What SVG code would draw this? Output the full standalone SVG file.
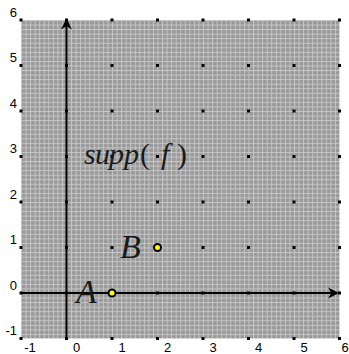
<svg xmlns="http://www.w3.org/2000/svg" width="349" height="354" viewBox="0 0 349 354">
<style>
.tick{font-family:"Liberation Sans",Arial,sans-serif;font-size:13px;fill:#000}
.xl{text-anchor:middle}
.yl{text-anchor:end}
.math{font-family:"Liberation Serif","Times New Roman",serif;font-style:italic;fill:#1a1a1a}
.up{font-style:normal}
.axis{stroke:#000;stroke-width:2;fill:none}
.dot{fill:#000}
.pt{fill:#ffff00;stroke:#000;stroke-width:2}
</style>
<defs>
<pattern id="fine" x="21" y="20" width="4.55" height="4.55" patternUnits="userSpaceOnUse">
<rect width="4.55" height="4.55" fill="#999"/>
<rect x="0" y="0" width="1" height="4.55" fill="#c6c6c6"/>
<rect x="0" y="0" width="4.55" height="1" fill="#c6c6c6"/>
</pattern>
</defs>
<rect width="349" height="354" fill="#fff"/>
<rect id="plot" x="21" y="20" width="318.5" height="318.5" fill="url(#fine)"/>
<g id="gridpoints">
<g class="dot">
<rect x="19.5" y="18.5" width="3" height="3"/><rect x="65" y="18.5" width="3" height="3"/><rect x="110.5" y="18.5" width="3" height="3"/><rect x="156" y="18.5" width="3" height="3"/><rect x="201.5" y="18.5" width="3" height="3"/><rect x="247" y="18.5" width="3" height="3"/><rect x="292.5" y="18.5" width="3" height="3"/><rect x="338" y="18.5" width="3" height="3"/>
<rect x="19.5" y="64" width="3" height="3"/><rect x="65" y="64" width="3" height="3"/><rect x="110.5" y="64" width="3" height="3"/><rect x="156" y="64" width="3" height="3"/><rect x="201.5" y="64" width="3" height="3"/><rect x="247" y="64" width="3" height="3"/><rect x="292.5" y="64" width="3" height="3"/><rect x="338" y="64" width="3" height="3"/>
<rect x="19.5" y="109.5" width="3" height="3"/><rect x="65" y="109.5" width="3" height="3"/><rect x="110.5" y="109.5" width="3" height="3"/><rect x="156" y="109.5" width="3" height="3"/><rect x="201.5" y="109.5" width="3" height="3"/><rect x="247" y="109.5" width="3" height="3"/><rect x="292.5" y="109.5" width="3" height="3"/><rect x="338" y="109.5" width="3" height="3"/>
<rect x="19.5" y="155" width="3" height="3"/><rect x="65" y="155" width="3" height="3"/><rect x="110.5" y="155" width="3" height="3"/><rect x="156" y="155" width="3" height="3"/><rect x="201.5" y="155" width="3" height="3"/><rect x="247" y="155" width="3" height="3"/><rect x="292.5" y="155" width="3" height="3"/><rect x="338" y="155" width="3" height="3"/>
<rect x="19.5" y="200.5" width="3" height="3"/><rect x="65" y="200.5" width="3" height="3"/><rect x="110.5" y="200.5" width="3" height="3"/><rect x="156" y="200.5" width="3" height="3"/><rect x="201.5" y="200.5" width="3" height="3"/><rect x="247" y="200.5" width="3" height="3"/><rect x="292.5" y="200.5" width="3" height="3"/><rect x="338" y="200.5" width="3" height="3"/>
<rect x="19.5" y="246" width="3" height="3"/><rect x="65" y="246" width="3" height="3"/><rect x="110.5" y="246" width="3" height="3"/><rect x="156" y="246" width="3" height="3"/><rect x="201.5" y="246" width="3" height="3"/><rect x="247" y="246" width="3" height="3"/><rect x="292.5" y="246" width="3" height="3"/><rect x="338" y="246" width="3" height="3"/>
<rect x="19.5" y="291.5" width="3" height="3"/><rect x="65" y="291.5" width="3" height="3"/><rect x="110.5" y="291.5" width="3" height="3"/><rect x="156" y="291.5" width="3" height="3"/><rect x="201.5" y="291.5" width="3" height="3"/><rect x="247" y="291.5" width="3" height="3"/><rect x="292.5" y="291.5" width="3" height="3"/><rect x="338" y="291.5" width="3" height="3"/>
<rect x="19.5" y="337" width="3" height="3"/><rect x="65" y="337" width="3" height="3"/><rect x="110.5" y="337" width="3" height="3"/><rect x="156" y="337" width="3" height="3"/><rect x="201.5" y="337" width="3" height="3"/><rect x="247" y="337" width="3" height="3"/><rect x="292.5" y="337" width="3" height="3"/><rect x="338" y="337" width="3" height="3"/>
</g>
</g>
<g id="connectors">
<line class="axis" x1="21" y1="293" x2="336" y2="293"/>
<path d="M339,293 L328,287.5 L331.5,293 L328,298.5 Z" fill="#000"/>
<line class="axis" x1="66.5" y1="338.5" x2="66.5" y2="22"/>
<path d="M66.5,18.5 L61,29.5 L66.5,26 L72,29.5 Z" fill="#000"/>
</g>
<g id="xlabels" class="tick xl">
<text x="30" y="352">-1</text><text x="76.5" y="352">0</text><text x="122" y="352">1</text><text x="167.5" y="352">2</text><text x="213" y="352">3</text><text x="258.5" y="352">4</text><text x="304" y="352">5</text><text x="345" y="352">6</text>
</g>
<g id="ylabels" class="tick yl">
<text x="17" y="17">6</text><text x="17" y="62">5</text><text x="17" y="107.5">4</text><text x="17" y="153">3</text><text x="17" y="198.5">2</text><text x="17" y="244">1</text><text x="17" y="289.5">0</text><text x="17" y="335">-1</text>
</g>
<g id="supp">
<text class="math" font-size="30" y="164"><tspan x="84">s</tspan><tspan x="95">u</tspan><tspan x="109">p</tspan><tspan x="124">p</tspan><tspan class="up" x="140">(</tspan><tspan x="161">f</tspan><tspan class="up" x="177">)</tspan></text>
</g>
<g id="A">
<text class="math" font-size="34" x="76" y="303">A</text>
<circle class="pt" cx="112" cy="293" r="3.5"/>
</g>
<g id="B">
<text class="math" font-size="34" x="120" y="258">B</text>
<circle class="pt" cx="157.5" cy="247.5" r="3.5"/>
</g>
</svg>
